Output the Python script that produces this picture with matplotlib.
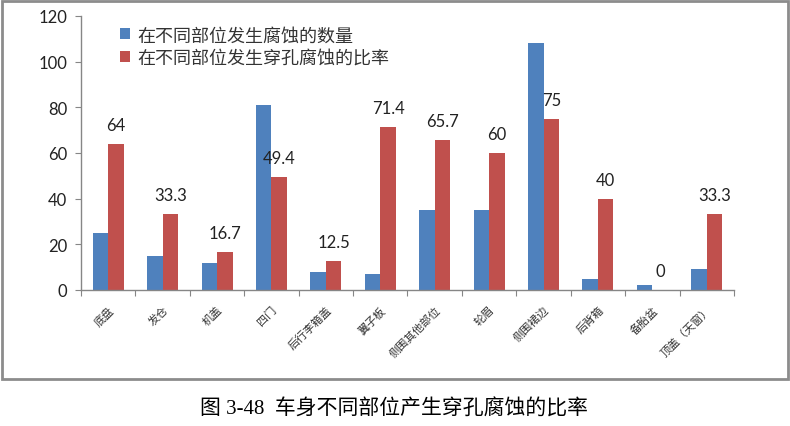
import matplotlib
matplotlib.use("Agg")
import matplotlib.pyplot as plt
import numpy as np
from matplotlib.patches import Rectangle

plt.rcParams['font.family'] = ['Lato', 'Noto Sans CJK SC', 'DejaVu Sans']

categories = ['底盘', '发仓', '机盖', '四门', '后行李箱盖', '翼子板', '侧围其他部位',
              '轮眉', '侧围裙边', '后背箱', '备胎盆', '顶盖（天窗）']
counts = [25, 15, 12, 81, 8, 7, 35, 35, 108, 5, 2, 9]
rates = [64, 33.3, 16.7, 49.4, 12.5, 71.4, 65.7, 60, 75, 40, 0, 33.3]
rate_labels = ['64', '33.3', '16.7', '49.4', '12.5', '71.4', '65.7', '60', '75', '40', '0', '33.3']
series_names = ['在不同部位发生腐蚀的数量', '在不同部位发生穿孔腐蚀的比率']
yticks = [0, 20, 40, 60, 80, 100, 120]
caption = '图 3-48  车身不同部位产生穿孔腐蚀的比率'

blue = '#4F81BD'
red = '#C0504D'
gray = '#868686'

fig = plt.figure(figsize=(7.9, 4.27), dpi=100)
fig.patches.append(Rectangle((1.5/790, 1 - 380/427), 786/790, 378/427,
                             transform=fig.transFigure, fill=False,
                             edgecolor='#8c8c8c', linewidth=2.0))

ax = fig.add_axes([81/790, 1 - 291/427, (734-81)/790, (291-17)/427])
x = np.arange(len(categories))
w = 0.285
ax.bar(x - w/2, counts, width=w, color=blue, label=series_names[0], zorder=2)
ax.bar(x + w/2, rates, width=w, color=red, label=series_names[1], zorder=2)

for xi, v, lab in zip(x, rates, rate_labels):
    ax.annotate(lab, (xi + w/2, v), xytext=(0, 8), textcoords='offset points',
                ha='center', va='bottom', fontsize=12, color='#222222')

ax.set_xlim(-0.5, len(categories) - 0.5)
ax.set_ylim(0, 120)
ax.set_yticks(yticks)
ax.set_yticklabels([str(t) for t in yticks], fontsize=12, color='#222222')
ax.set_xticks(np.arange(len(categories) + 1) - 0.5)
ax.set_xticklabels([])
ax.set_xticks(x, minor=True)
ax.set_xticklabels(categories, minor=True, rotation=45, ha='right', va='top',
                   rotation_mode='anchor', fontsize=8, color='#333333',
                   family=['Noto Sans CJK SC', 'DejaVu Sans'])
ax.tick_params(axis='x', which='minor', length=0, pad=10)
ax.tick_params(axis='x', which='major', length=4, color=gray, direction='out')
ax.tick_params(axis='y', length=4, color=gray, direction='out', pad=6)
for s in ['top', 'right']:
    ax.spines[s].set_visible(False)
for s in ['left', 'bottom']:
    ax.spines[s].set_color(gray)
    ax.spines[s].set_linewidth(1.0)

leg = ax.legend(loc='upper left', bbox_to_anchor=(0.035, 1.022), frameon=False,
                handlelength=0.55, handleheight=0.55,
                handletextpad=0.4, labelspacing=0.25,
                prop={'family': ['Noto Sans CJK SC', 'DejaVu Sans'], 'size': 13})
for t in leg.get_texts():
    t.set_color('#333333')

fig.text(394/790, 1 - 410/427, caption, ha='center', va='center', fontsize=15,
         family=['Liberation Serif', 'Noto Sans CJK SC'], color='black')

fig.savefig('out.png', dpi=100)
